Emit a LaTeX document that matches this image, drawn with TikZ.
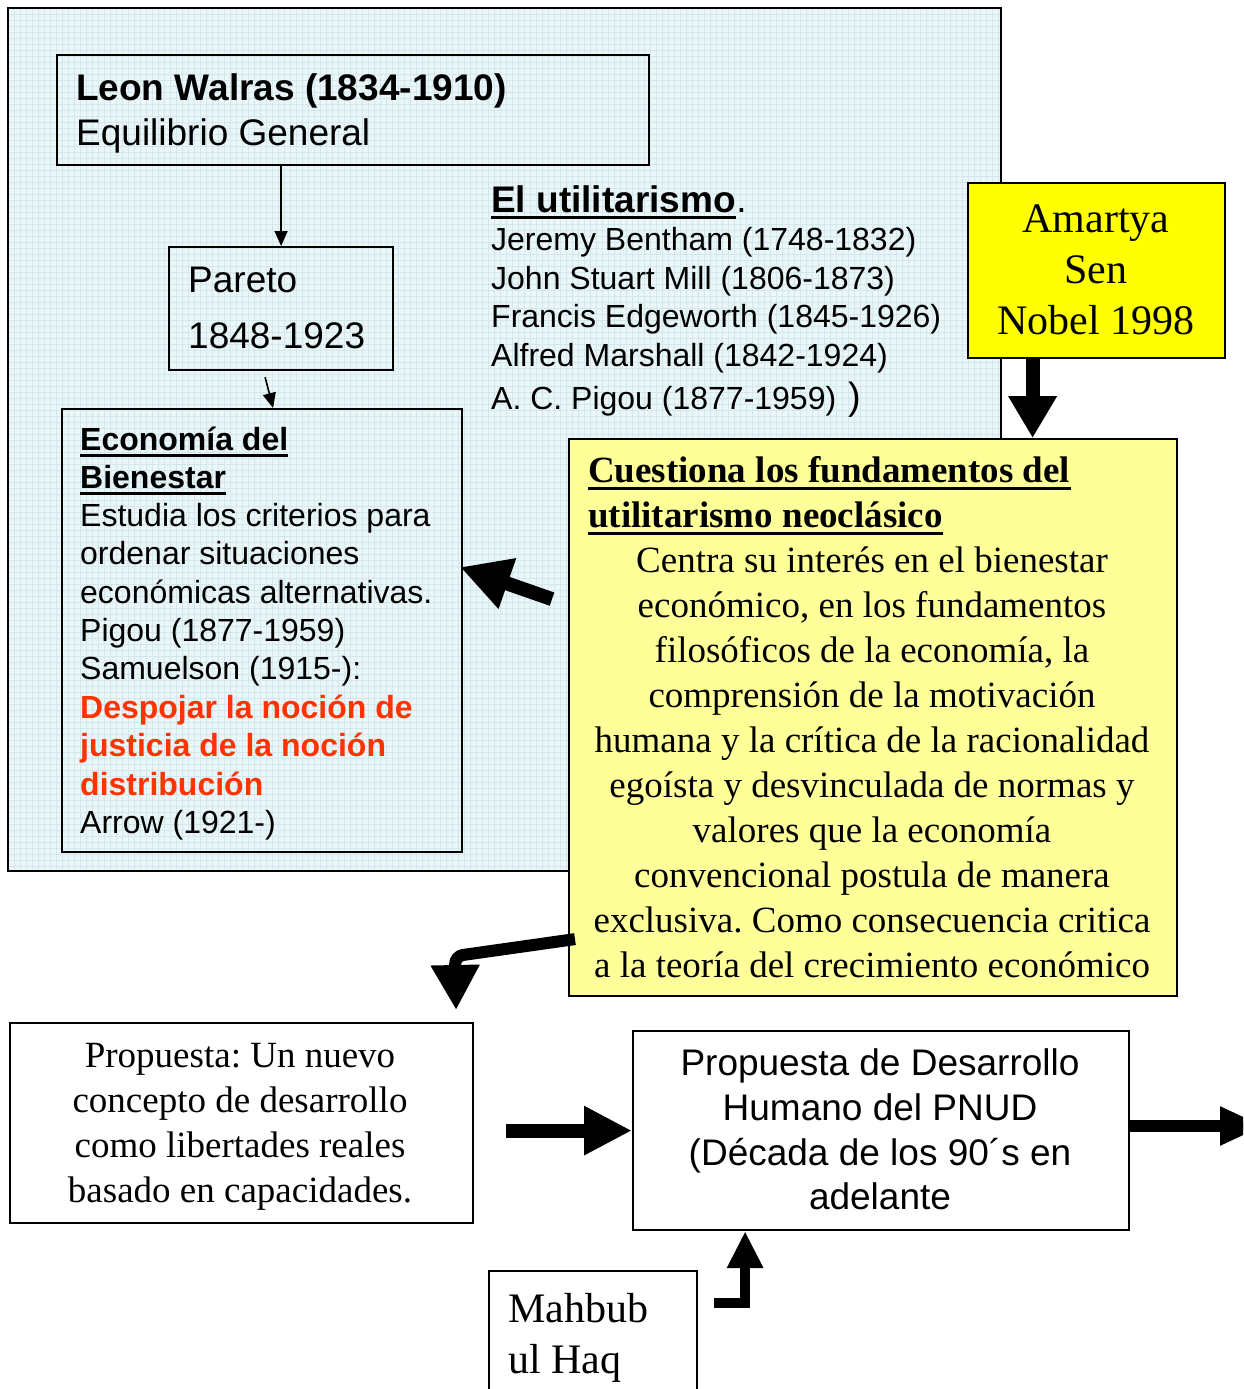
\documentclass[tikz,border=0pt]{standalone}
\usepackage{fontspec}
\setmainfont{Liberation Serif}
\newfontfamily\arialf{Liberation Sans}
\usetikzlibrary{arrows.meta}
\definecolor{panelbg}{HTML}{EBF6F8}
\definecolor{gridc}{HTML}{D2E8EC}
\definecolor{senyellow}{HTML}{FFFF00}
\definecolor{lightyellow}{HTML}{FFFF99}
\definecolor{redtxt}{HTML}{FF3300}
\frenchspacing
\begin{document}
\frenchspacing
\begin{tikzpicture}[x=1pt,y=-1pt,
  box/.style={draw=black, line width=2.2pt, inner sep=0pt, anchor=north west},
  txt/.style={anchor=base west, inner sep=0pt},
  ctxt/.style={anchor=base, inner sep=0pt},
  sans/.style={font=\arialf\fontsize{32}{38}\selectfont},
  sansbig/.style={font=\arialf\fontsize{37}{44}\selectfont},
  sansbigb/.style={font=\arialf\bfseries\fontsize{37}{44}\selectfont},
  serif/.style={font=\fontsize{37}{44}\selectfont\frenchspacing},
  serifb/.style={font=\bfseries\fontsize{37}{44}\selectfont},
  serifbig/.style={font=\fontsize{42}{50}\selectfont},
  ul/.style={line width=3pt},
  blk/.style={line width=14pt, -{Triangle[width=46pt,length=44pt]}},
  thinarr/.style={line width=1.6pt, -{Triangle[width=13pt,length=15pt]}}]
\useasboundingbox (0,0) rectangle (1243,1389);
\clip (0,0) rectangle (1243,1389);
\fill[white] (0,0) rectangle (1243,1389);

% top panel with grid
\node[draw=black, line width=1.3pt, fill=panelbg, inner sep=0pt, anchor=north west,
  minimum width=992pt, minimum height=862pt] (panel) at (8,8) {};
\begin{scope}
  \clip (panel.north west) rectangle (panel.south east);
  \foreach \gx in {8,14,...,1000} \draw[gridc, line width=0.5pt] (\gx,8) -- (\gx,870);
  \foreach \gy in {8,14,...,870} \draw[gridc, line width=0.5pt] (8,\gy) -- (1000,\gy);
\end{scope}
\draw[line width=1.3pt] (panel.north west) rectangle (panel.south east);

% boxes
\node[box, minimum width=592pt, minimum height=110pt] (walras) at (56,54) {};
\node[box, minimum width=224pt, minimum height=123pt] (pareto) at (168,246) {};
\node[box, minimum width=400pt, minimum height=443pt] (econ) at (61,408) {};
\node[box, fill=senyellow, minimum width=257pt, minimum height=175pt] (sen) at (967,182) {};
\node[box, fill=lightyellow, minimum width=608pt, minimum height=557pt] (cuest) at (568,438) {};
\node[box, fill=white, minimum width=463pt, minimum height=200pt] (prop) at (9,1022) {};
\node[box, fill=white, minimum width=496pt, minimum height=199pt] (pnud) at (632,1030) {};
\node[box, fill=white, minimum width=208pt, minimum height=160pt] (mahbub) at (488,1270) {};

% Walras
\node[txt, sansbigb] (walras1) at (76,100) {Leon Walras (1834-1910)};
\node[txt, sansbig] (walras2) at (76,145) {Equilibrio General};
% Pareto
\node[txt, sansbig] (pareto1) at (188,292) {Pareto};
\node[txt, sansbig] (pareto2) at (188,348) {1848-1923};

% Utilitarismo
\node[txt, sansbigb] (util) at (491,212) {El utilitarismo};
\node[txt, sansbig] (utildot) at (util.base east) {.};
\draw[ul] ([yshift=-5pt]util.base west) -- ([yshift=-5pt]util.base east);
\node[txt, sans] (u1) at (491,250) {Jeremy Bentham (1748-1832)};
\node[txt, sans] (u2) at (491,289) {John Stuart Mill (1806-1873)};
\node[txt, sans] (u3) at (491,327) {Francis Edgeworth (1845-1926)};
\node[txt, sans] (u4) at (491,366) {Alfred Marshall (1842-1924)};
\node[txt, sans] (u5) at (491,409) {A. C. Pigou (1877-1959)};
\node[txt, font=\arialf\fontsize{38}{44}\selectfont] (u5p) at ([xshift=12pt]u5.base east) {)};

% Economia del Bienestar
\node[txt, font=\arialf\bfseries\fontsize{32}{38}\selectfont] (e1) at (80,450) {Economía del};
\node[txt, font=\arialf\bfseries\fontsize{32}{38}\selectfont] (e2) at (80,488) {Bienestar};
\draw[ul] ([yshift=-5pt]e1.base west) -- ([yshift=-5pt]e1.base east);
\draw[ul] ([yshift=-5pt]e2.base west) -- ([yshift=-5pt]e2.base east);
\node[txt, sans] (e3) at (80,526) {Estudia los criterios para};
\node[txt, sans] (e4) at (80,564) {ordenar situaciones};
\node[txt, sans] (e5) at (80,603) {económicas alternativas.};
\node[txt, sans] (e6) at (80,641) {Pigou (1877-1959)};
\node[txt, sans] (e7) at (80,679) {Samuelson (1915-):};
\node[txt, font=\arialf\bfseries\fontsize{32}{38}\selectfont, text=redtxt] (e8) at (80,718) {Despojar la noción de};
\node[txt, font=\arialf\bfseries\fontsize{32}{38}\selectfont, text=redtxt] (e9) at (80,756) {justicia de la noción};
\node[txt, font=\arialf\bfseries\fontsize{32}{38}\selectfont, text=redtxt] (e10) at (80,795) {distribución};
\node[txt, sans] (e11) at (80,833) {Arrow (1921-)};

% Amartya Sen
\node[ctxt, serifbig] (sen1) at (1096,232) {Amartya};
\node[ctxt, serifbig] (sen2) at (1096,283) {Sen};
\node[ctxt, serifbig] (sen3) at (1096,334) {Nobel 1998};

% Cuestiona
\node[txt, serifb] (c1) at (588,482) {Cuestiona los fundamentos del};
\node[txt, serifb] (c2) at (588,527) {utilitarismo neoclásico};
\draw[ul] ([yshift=-6pt]c1.base west) -- ([yshift=-6pt]c1.base east);
\draw[ul] ([yshift=-6pt]c2.base west) -- ([yshift=-6pt]c2.base east);
\foreach \t [count=\i from 0] in {Centra su interés en el bienestar,
  {económico, en los fundamentos},
  {filosóficos de la economía, la},
  comprensión de la motivación,
  humana y la crítica de la racionalidad,
  egoísta y desvinculada de normas y,
  valores que la economía,
  convencional postula de manera,
  exclusiva. Como consecuencia critica,
  a la teoría del crecimiento económico}
  \node[ctxt, serif] (cb\i) at (872,{572+45*\i}) {\t};

% Propuesta
\node[ctxt, serif] (p1) at (240,1067) {Propuesta: Un nuevo};
\node[ctxt, serif] (p2) at (240,1112) {concepto de desarrollo};
\node[ctxt, serif] (p3) at (240,1157) {como libertades reales};
\node[ctxt, serif] (p4) at (240,1202) {basado en capacidades.};

% PNUD
\node[ctxt, sansbig] (d1) at (880,1075) {Propuesta de Desarrollo};
\node[ctxt, sansbig] (d2) at (880,1120) {Humano del PNUD};
\node[ctxt, sansbig] (d3) at (880,1165) {(Década de los 90´s en};
\node[ctxt, sansbig] (d4) at (880,1209) {adelante};

% Mahbub
\node[txt, serifbig] (m1) at (508,1322) {Mahbub};
\node[txt, serifbig] (m2) at (508,1373) {ul Haq};

% thin connectors
\draw[thinarr] (walras.south -| pareto.north) -- (pareto.north);
\draw[thinarr] ([xshift=-16pt,yshift=-6pt]pareto.south) -- ([xshift=11pt]econ.north);

% block arrows
\draw[blk, -{Triangle[width=46pt,length=42pt]}] ([xshift=-64pt]sen.south) -- ([xshift=-64pt]sen.south |- cuest.north);
\draw[blk, -{Triangle[width=50pt,length=50pt]}] ([xshift=-16pt,yshift=118.5pt]cuest.west) -- ([xshift=-3pt,yshift=63.5pt]econ.east);
\draw[blk, line width=12pt, rounded corners=8pt, -{Triangle[width=46pt,length=45pt]}]
  ([xshift=7pt,yshift=-221.5pt]cuest.west) -- ++(-120,17) -- ([xshift=214.5pt,yshift=12pt]prop.north);
\draw[blk, -{Triangle[width=46pt,length=48pt]}] ([xshift=32pt]prop.east |- pnud.west) -- (pnud.west);
\coordinate (outend) at (1264,1126);
\draw[blk, line width=12pt, -{Triangle[width=36pt,length=44pt]}] (pnud.east |- outend) -- (outend);
\draw[blk, line width=10pt, -{Triangle[width=34pt,length=37pt]}]
  ([xshift=16pt,yshift=48pt]mahbub.east) -| ([xshift=-136pt]pnud.south);
\end{tikzpicture}
\end{document}
